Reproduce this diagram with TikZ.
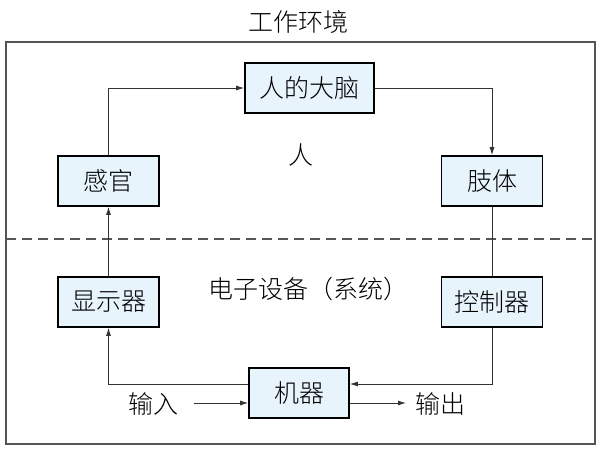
\documentclass[tikz,border=0pt]{standalone}
\usepackage{fontspec}
\setmainfont{Noto Sans CJK SC Light}
\usetikzlibrary{arrows.meta}
\definecolor{boxfill}{HTML}{E8F4FC}
\definecolor{linegray}{HTML}{555555}
\definecolor{conngray}{HTML}{333333}
\tikzset{
  blk/.style={draw=black, line width=1.6pt, fill=boxfill, minimum height=50pt, inner sep=0pt, font=\fontsize{25}{28}\selectfont},
  conn/.style={draw=conngray, line width=0.9pt},
  arr/.style={conn, -{Latex[length=8pt,width=5pt]}},
  lbl/.style={font=\fontsize{25}{28}\selectfont, inner sep=0pt}
}
\begin{document}
\begin{tikzpicture}[x=1pt,y=-1pt]
\useasboundingbox (0,0) rectangle (600,450);
\node[lbl] (title) at (298,22) {工作环境};
\draw[draw=linegray, line width=1.3pt] (6,42) rectangle (595,444);
\coordinate (dl) at (6,239);
\coordinate (dr) at (595,239);
\draw[draw=linegray, line width=1.1pt, dash pattern=on 10pt off 6pt] (dl) -- (dr);
\node[blk, minimum width=129pt] (brain) at (309.5,88) {人的大脑};
\node[blk, minimum width=101pt] (gan) at (108.5,181) {感官};
\node[blk, minimum width=101pt] (zhi) at (492,181) {肢体};
\node[blk, minimum width=101pt] (xian) at (108.5,302) {显示器};
\node[blk, minimum width=101pt] (kong) at (492,302) {控制器};
\node[blk, minimum width=100pt] (ji) at (299,393) {机器};
\node[lbl] (ren) at (301,155) {人};
\node[lbl] (dz) at (308,289) {电子设备（系统）};
\node[lbl] (in) at (153,404) {输入};
\node[lbl] (out) at (440,404) {输出};
\coordinate (inS) at (194,403);
\coordinate (outE) at (406,403);
\draw[arr] (gan.north) |- (brain.west);
\draw[arr] (brain.east) -| (zhi.north);
\draw[conn] (zhi.south) -- (kong.north);
\draw[arr] (kong.south) |- ([yshift=9pt]ji.east);
\draw[arr] ([yshift=9pt]ji.west) -| (xian.south);
\draw[arr] (xian.north) -- (gan.south);
\draw[arr] (inS) -- ([yshift=-10pt]ji.west);
\draw[arr] ([yshift=-10pt]ji.east) -- (outE);
\end{tikzpicture}
\end{document}
